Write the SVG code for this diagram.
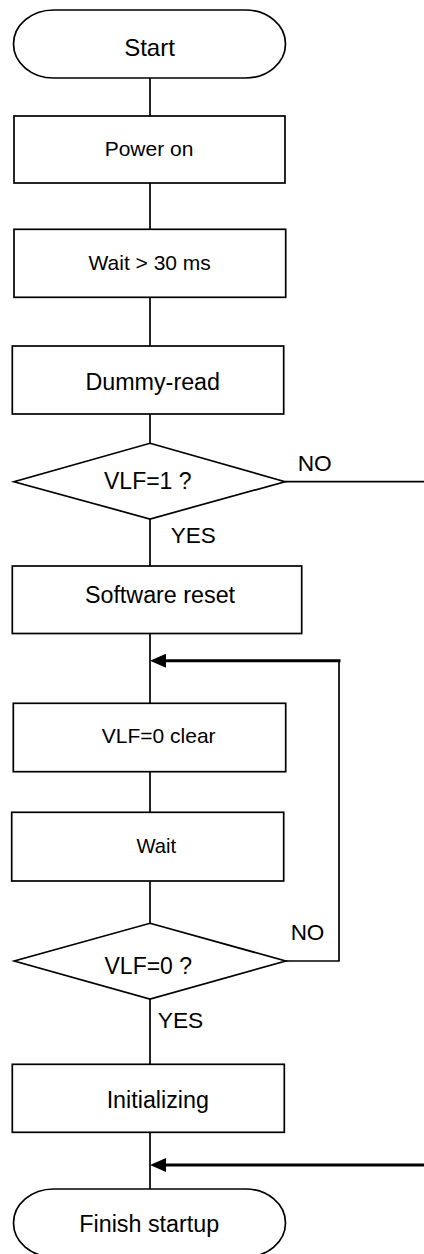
<svg xmlns="http://www.w3.org/2000/svg" width="424" height="1254" viewBox="0 0 424 1254">
<style>
.s{fill:#fff;stroke:#000;stroke-width:1.7}
.t{font-family:"Liberation Sans",Arial,sans-serif;fill:#000;text-anchor:middle}
.b{font-size:23.3px}
.m{font-size:21px}
.c{fill:none;stroke:#000;stroke-width:1.7}
.a{fill:none;stroke:#000;stroke-width:3}
</style>
<defs>
<marker id="ah" markerUnits="userSpaceOnUse" markerWidth="16" markerHeight="14" refX="8" refY="7" orient="auto">
<path d="M0,0 L16,7 L0,14 z" fill="#000"/>
</marker>
</defs>
<rect width="424" height="1254" fill="#fff"/>
<g id="connectors">
<path class="c" d="M150,78 V116 M150,183 V229.3 M150,297.3 V346 M150,414 V443.3 M150,519 V566 M150,633.5 V703.3 M150,771.7 V812.3 M150,881 V923.3 M150,999 V1064.3 M150,1132.3 V1189"/>
<path class="c" d="M285,481.7 H424"/>
<path class="c" d="M285.7,961 H339 V660.7"/>
<path class="a" d="M340.5,660.7 H158" marker-end="url(#ah)"/>
<path class="a" d="M424,1165 H158" marker-end="url(#ah)"/>
<text class="t" x="314.7" y="471" style="font-size:22.7px">NO</text>
<text class="t" x="193.3" y="543.3" style="font-size:22.5px">YES</text>
<text class="t" x="307.5" y="940" style="font-size:22.5px">NO</text>
<text class="t" x="180.5" y="1028.3" style="font-size:22.8px">YES</text>
</g>
<g id="start">
<rect class="s" x="13.5" y="10" width="272" height="68" rx="40" ry="34"/>
<text class="t" x="149.5" y="56" style="font-size:24px">Start</text>
</g>
<g id="power-on">
<rect class="s" x="14" y="116" width="271" height="67"/>
<text class="t m" x="149" y="156">Power on</text>
</g>
<g id="wait-30ms">
<rect class="s" x="14" y="229.3" width="271.7" height="68"/>
<text class="t m" x="149.7" y="270">Wait &gt; 30 ms</text>
</g>
<g id="dummy-read">
<rect class="s" x="12.3" y="346" width="271.4" height="68"/>
<text class="t b" x="152.7" y="390">Dummy-read</text>
</g>
<g id="vlf1">
<polygon class="s" points="150,443.3 285,481.7 150,519 14,481.7"/>
<text class="t" x="147.8" y="489.3" style="font-size:23px">VLF=1 ?</text>
</g>
<g id="software-reset">
<rect class="s" x="12.3" y="566" width="289.4" height="67.5"/>
<text class="t b" x="160" y="602.7">Software reset</text>
</g>
<g id="vlf0-clear">
<rect class="s" x="13.3" y="703.3" width="272.4" height="68.4"/>
<text class="t m" x="158.7" y="743.3">VLF=0 clear</text>
</g>
<g id="wait">
<rect class="s" x="11.7" y="812.3" width="272" height="68.7"/>
<text class="t" x="156.3" y="852.7" style="font-size:20.3px">Wait</text>
</g>
<g id="vlf0">
<polygon class="s" points="150,923.3 285.7,961 150,999 14.3,961"/>
<text class="t" x="148.3" y="974" style="font-size:23px">VLF=0 ?</text>
</g>
<g id="initializing">
<rect class="s" x="12.3" y="1064.3" width="272" height="68"/>
<text class="t b" x="157.8" y="1108.3">Initializing</text>
</g>
<g id="finish">
<rect class="s" x="13.5" y="1189" width="272" height="68" rx="40" ry="34"/>
<text class="t b" x="149.2" y="1231.7">Finish startup</text>
</g>
</svg>
